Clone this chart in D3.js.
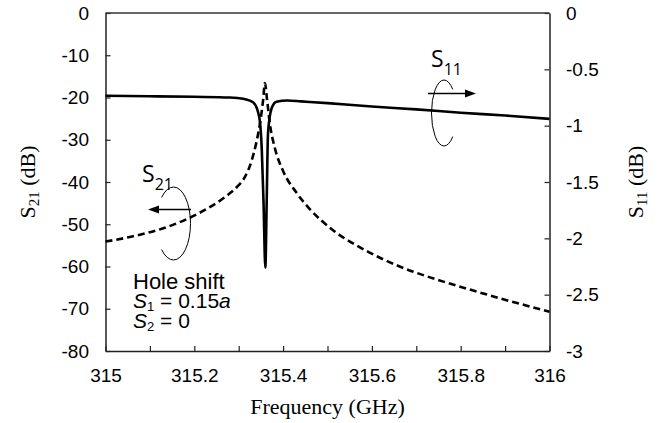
<!DOCTYPE html>
<html>
<head>
<meta charset="utf-8">
<script src="https://cdn.jsdelivr.net/npm/d3@7"></script>
<style>
  body { margin: 0; background: #fff; }
  svg text { fill: #000; }
</style>
</head>
<body>
<div id="chart"></div>
<script>
// S21 (left axis, dB) - dashed
const s21Freq = [315.00, 315.06, 315.14, 315.21, 315.27, 315.295, 315.314, 315.329, 315.340, 315.348,
  315.355, 315.359, 315.364, 315.370, 315.381, 315.400, 315.430, 315.46, 315.5125, 315.5876,
  315.6625, 315.7375, 315.8126, 315.8875, 316.00];
const s21Vals = [-54.1, -52.9, -50.6, -47.4, -43.5, -41.3, -38.8, -35.0, -30.5, -26.1,
  -20.6, -16.6, -20.6, -26.1, -31.8, -37.4, -42.5, -46.4, -51.4, -56.3,
  -60.0, -62.8, -65.2, -67.5, -70.7];

// S11 (right axis, dB) - solid
const s11Freq = [315.00, 315.10, 315.20, 315.28, 315.31, 315.333, 315.346, 315.352, 315.356, 315.360,
  315.363, 315.366, 315.374, 315.385, 315.41, 315.44, 315.5, 315.6, 315.7, 315.8, 315.9, 316.0];
const s11Vals = [-0.735, -0.739, -0.744, -0.750, -0.761, -0.795, -0.919, -1.215, -1.69, -2.26,
  -1.69, -1.07, -0.848, -0.788, -0.776, -0.784, -0.80, -0.83, -0.855, -0.885, -0.91, -0.94];

const xTicks = [315, 315.1, 315.2, 315.3, 315.4, 315.5, 315.6, 315.7, 315.8, 315.9, 316];
const yLeftTicks = [0, -10, -20, -30, -40, -50, -60, -70, -80];
const yRightTicks = [0, -0.5, -1, -1.5, -2, -2.5, -3];

const width = 670;
const height = 423;
const margin = { top: 13, right: 120.5, bottom: 72, left: 105.5 };

const svg = d3.select('#chart')
  .append('svg')
  .attr('width', width)
  .attr('height', height)

const x = d3.scaleLinear()
  .domain([315, 316])
  .range([margin.left, width - margin.right])

const yL = d3.scaleLinear()
  .domain([-80, 0])
  .range([height - margin.bottom, margin.top])

const yR = d3.scaleLinear()
  .domain([-3, 0])
  .range([height - margin.bottom, margin.top])

const tickFont = '"Liberation Sans", Arial, sans-serif';

// axes
const xAxis = d3.axisBottom(x)
  .tickValues(xTicks)
  .tickSizeInner(-5)
  .tickSizeOuter(0)
  .tickPadding(17.5)
  .tickFormat(d => (Math.round(d * 10) % 2 === 0) ? String(+d.toFixed(1)) : '')

const leftAxis = d3.axisLeft(yL)
  .tickValues(yLeftTicks)
  .tickSizeInner(-5)
  .tickSizeOuter(0)
  .tickPadding(16.5)
  .tickFormat(d => String(d))

const rightAxis = d3.axisRight(yR)
  .tickValues(yRightTicks)
  .tickSizeInner(-5)
  .tickSizeOuter(0)
  .tickPadding(16.5)
  .tickFormat(d => String(d))

const axes = [
  svg.append('g').attr('transform', `translate(0, ${height - margin.bottom})`).call(xAxis),
  svg.append('g').attr('transform', `translate(${margin.left}, 0)`).call(leftAxis),
  svg.append('g').attr('transform', `translate(${width - margin.right}, 0)`).call(rightAxis)
];

axes.forEach(g => {
  g.selectAll('text').style('font-family', tickFont).style('font-size', '19px').attr('fill', '#000')
  g.select('.domain').attr('stroke', '#222').attr('stroke-width', 1.5)
  g.selectAll('.tick line').attr('stroke', '#222').attr('stroke-width', 1.2)
})

// top border
svg.append('line')
  .attr('x1', margin.left).attr('x2', width - margin.right)
  .attr('y1', margin.top).attr('y2', margin.top)
  .attr('stroke', '#333').attr('stroke-width', 1.5)

// lines
const s21Data = s21Freq.map((f, i) => [f, s21Vals[i]]);
const s11Data = s11Freq.map((f, i) => [f, s11Vals[i]]);

svg.append('path')
  .datum(s21Data)
  .attr('fill', 'none')
  .attr('stroke', '#000')
  .attr('stroke-width', 2.6)
  .attr('stroke-dasharray', '7,4')
  .attr('d', d3.line().x(d => x(d[0])).y(d => yL(d[1])).curve(d3.curveMonotoneX))

svg.append('path')
  .datum(s11Data)
  .attr('fill', 'none')
  .attr('stroke', '#000')
  .attr('stroke-width', 2.6)
  .attr('d', d3.line().x(d => x(d[0])).y(d => yR(d[1])).curve(d3.curveMonotoneX))

// axis titles
const serif = '"Liberation Serif", "Times New Roman", serif';

svg.append('text')
  .attr('x', (margin.left + width - margin.right) / 2)
  .attr('y', 414)
  .attr('text-anchor', 'middle')
  .style('font-family', serif)
  .style('font-size', '22px')
  .text('Frequency (GHz)')

function yTitle(cx, cy, sub) {
  const t = svg.append('text')
    .attr('transform', `translate(${cx}, ${cy}) rotate(-90)`)
    .attr('text-anchor', 'middle')
    .attr('dy', '0.35em')
    .style('font-family', serif)
    .style('font-size', '22px')
  t.append('tspan').text('S')
  t.append('tspan').attr('font-size', '15px').attr('dy', 4).text(sub)
  t.append('tspan').attr('dy', -4).text(' (dB)')
}
yTitle(27, 182, '21')
yTitle(635, 182, '11')

// S labels
const labelFont = '"Open Sans", sans-serif';
function sLabel(lx, ly, sub) {
  const t = svg.append('text')
    .attr('x', lx).attr('y', ly)
    .style('font-family', labelFont)
    .style('font-size', '23px')
  t.append('tspan').text('S')
  t.append('tspan').attr('font-size', '16px').attr('dy', 8).text(sub)
}
sLabel(142, 182, '21')
sLabel(431, 67, '11')

// rotation symbols + arrows
function arrow(x1, x2, yy) {
  const dir = x2 > x1 ? 1 : -1;
  svg.append('line')
    .attr('x1', x1).attr('x2', x2 - dir * 6)
    .attr('y1', yy).attr('y2', yy)
    .attr('stroke', '#000').attr('stroke-width', 1.5)
  svg.append('path')
    .attr('d', `M${x2},${yy} L${x2 - dir * 11},${yy - 4} L${x2 - dir * 11},${yy + 4} Z`)
    .attr('fill', '#000')
}
function ellArc(cx, cy, rx, ry, side) {
  // open ellipse, gap on the given side (-1 left, 1 right)
  const dx = side * 0.7 * rx;
  const dy = ry * Math.sqrt(1 - 0.49);
  const sweep = side < 0 ? 1 : 0;
  svg.append('path')
    .attr('d', `M${cx + dx},${cy - dy} A${rx},${ry} 0 1 ${sweep} ${cx + dx},${cy + dy}`)
    .attr('fill', 'none')
    .attr('stroke', '#000')
    .attr('stroke-width', 1)
}
ellArc(173.5, 223.5, 17, 36.5, -1)
arrow(191, 148, 209.5)
ellArc(444, 113, 12.5, 33, 1)
arrow(428, 476, 93.5)

// hole shift note
const note = svg.append('g')
  .style('font-family', tickFont)
  .style('font-size', '21px')

note.append('text').attr('x', 133).attr('y', 289).style('font-size', '22px').text('Hole shift')

const n1 = note.append('text').attr('x', 133).attr('y', 308)
n1.append('tspan').style('font-style', 'italic').text('S')
n1.append('tspan').attr('font-size', '13px').attr('dy', 3).text('1')
n1.append('tspan').attr('dy', -3).text(' = 0.15')
n1.append('tspan').style('font-style', 'italic').text('a')

const n2 = note.append('text').attr('x', 133).attr('y', 328)
n2.append('tspan').style('font-style', 'italic').text('S')
n2.append('tspan').attr('font-size', '13px').attr('dy', 3).text('2')
n2.append('tspan').attr('dy', -3).text(' = 0')
</script>
</body>
</html>
